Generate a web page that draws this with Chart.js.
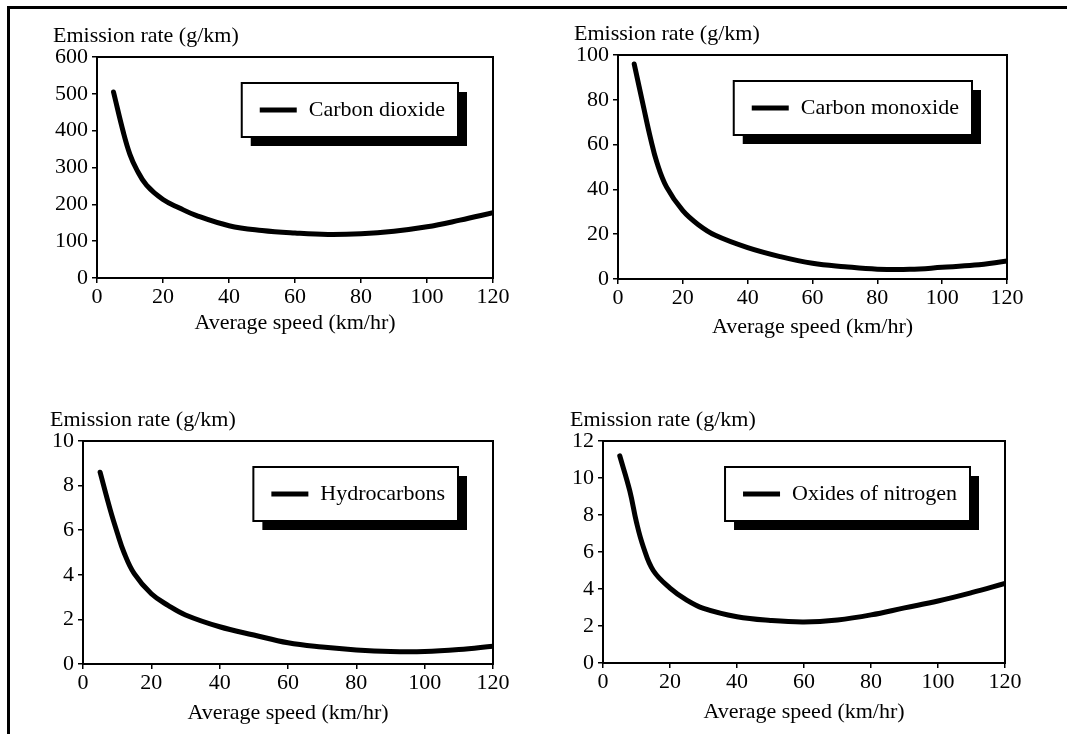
<!DOCTYPE html>
<html>
<head>
<meta charset="utf-8">
<script src="https://cdn.jsdelivr.net/npm/chart.js@4/dist/chart.umd.min.js"></script>
<style>
  body { margin: 0; background: #fff; width: 1067px; height: 734px; position: relative; overflow: hidden; }
  #frame { position: absolute; left: 7px; top: 6px; width: 1060px; height: 728px; border-left: 3px solid #000; border-top: 3px solid #000; box-sizing: border-box; }
  canvas { position: absolute; }
</style>
</head>
<body>
<div id="frame"></div>
<canvas id="c1"></canvas>
<canvas id="c2"></canvas>
<canvas id="c3"></canvas>
<canvas id="c4"></canvas>
<script>
// speeds (km/hr)
const speeds = [5, 8, 10, 12, 15, 20, 25, 30, 40, 50, 60, 70, 80, 90, 100, 110, 120];

// emission rates (g/km)
const carbonDioxide = [505, 395, 335, 295, 252, 213, 190, 170, 142, 129, 122, 118, 120, 127, 139, 157, 177];
const carbonMonoxide = [96, 76, 63, 52, 41, 30.5, 24, 19.5, 14, 10, 7, 5.5, 4.4, 4.3, 5.2, 6.2, 8];
const hydrocarbons = [8.6, 6.9, 5.9, 5.0, 4.05, 3.15, 2.62, 2.2, 1.67, 1.3, 0.95, 0.76, 0.63, 0.56, 0.56, 0.65, 0.8];
const oxidesOfNitrogen = [11.2, 9.3, 7.6, 6.3, 5.0, 4.05, 3.4, 2.95, 2.5, 2.3, 2.22, 2.33, 2.6, 2.98, 3.35, 3.8, 4.3];

const seriesNames = ['Carbon dioxide', 'Carbon monoxide', 'Hydrocarbons', 'Oxides of nitrogen'];
const yMaxes = [600, 100, 10, 12];
const ySteps = [100, 20, 2, 2];
const xMax = 120;
const xStep = 20;
const yTitle = 'Emission rate (g/km)';
const xTitle = 'Average speed (km/hr)';

const FONT_FAMILY = '"Liberation Serif", "Times New Roman", serif';
const FONT_SIZE = 22;

// plot boxes on the page: left, top, right, bottom
const panels = [
  { id: 'c1', box: [97, 57, 493, 278], values: carbonDioxide, titleGap: 12 },
  { id: 'c2', box: [618, 55, 1007, 279], values: carbonMonoxide, titleGap: 9 },
  { id: 'c3', box: [83, 441, 493, 664], values: hydrocarbons, titleGap: 8 },
  { id: 'c4', box: [603, 441, 1005, 663], values: oxidesOfNitrogen, titleGap: 8 }
];

const PAD_LEFT = 90, PAD_TOP = 50, PAD_RIGHT = 40, PAD_BOTTOM = 70;

// box round the plot, legend with drop shadow, y title over the axis
const panelDecor = {
  id: 'panelDecor',
  afterDatasetsDraw(chart) {
    const ctx = chart.ctx;
    const a = chart.chartArea;
    ctx.save();
    ctx.strokeStyle = '#000';
    ctx.lineWidth = 2;
    ctx.strokeRect(a.left, a.top, a.right - a.left, a.bottom - a.top);

    ctx.font = FONT_SIZE + 'px ' + FONT_FAMILY;
    const label = chart.data.datasets[0].label;
    const tw = ctx.measureText(label).width;
    const w = tw + 80, h = 54;
    const x = a.right - 35 - w, y = a.top + 26;
    ctx.fillStyle = '#000';
    ctx.fillRect(x + 9, y + 9, w, h);
    ctx.fillStyle = '#fff';
    ctx.fillRect(x, y, w, h);
    ctx.strokeRect(x, y, w, h);
    ctx.lineWidth = 5;
    ctx.beginPath();
    ctx.moveTo(x + 18, y + h / 2);
    ctx.lineTo(x + 55, y + h / 2);
    ctx.stroke();
    ctx.fillStyle = '#000';
    ctx.textAlign = 'left';
    ctx.textBaseline = 'middle';
    ctx.fillText(label, x + 67, y + h / 2);

    let maxW = 0;
    chart.scales.y.ticks.forEach(t => { maxW = Math.max(maxW, ctx.measureText(String(t.label)).width); });
    ctx.fillText(yTitle, a.left - 9 - maxW - 2, a.top - 21);
    ctx.restore();
  }
};

panels.forEach((p, i) => {
  const [L, T, R, B] = p.box;
  const canvas = document.getElementById(p.id);
  const cw = R - L + PAD_LEFT + PAD_RIGHT;
  const ch = B - T + PAD_TOP + PAD_BOTTOM;
  canvas.width = cw;
  canvas.height = ch;
  canvas.style.left = (L - PAD_LEFT) + 'px';
  canvas.style.top = (T - PAD_TOP) + 'px';
  canvas.style.width = cw + 'px';
  canvas.style.height = ch + 'px';

  new Chart(canvas.getContext('2d'), {
    type: 'line',
    data: {
      datasets: [{
        label: seriesNames[i],
        data: speeds.map((s, k) => ({ x: s, y: p.values[k] })),
        borderColor: '#000',
        borderWidth: 5,
        borderCapStyle: 'round',
        borderJoinStyle: 'round',
        pointRadius: 0,
        fill: false,
        tension: 0.4
      }]
    },
    options: {
      responsive: false,
      animation: false,
      devicePixelRatio: 1,
      layout: { padding: { top: PAD_TOP, right: PAD_RIGHT, left: 0, bottom: 0 } },
      plugins: {
        legend: { display: false },
        tooltip: { enabled: false },
        title: { display: false }
      },
      scales: {
        x: {
          type: 'linear',
          min: 0,
          max: xMax,
          ticks: { stepSize: xStep, color: '#000', padding: 1, maxRotation: 0,
                   font: { family: FONT_FAMILY, size: FONT_SIZE } },
          grid: { drawOnChartArea: false, drawTicks: true, tickLength: 5, color: '#000', lineWidth: 1.5 },
          border: { display: true, color: '#000', width: 2 },
          title: { display: true, text: xTitle, color: '#000', padding: { top: 0, bottom: p.titleGap },
                   font: { family: FONT_FAMILY, size: FONT_SIZE } },
          afterFit(scale) { scale.height = PAD_BOTTOM; }
        },
        y: {
          min: 0,
          max: yMaxes[i],
          ticks: { stepSize: ySteps[i], color: '#000', padding: 4,
                   font: { family: FONT_FAMILY, size: FONT_SIZE } },
          grid: { drawOnChartArea: false, drawTicks: true, tickLength: 5, color: '#000', lineWidth: 1.5 },
          border: { display: true, color: '#000', width: 2 },
          afterFit(scale) { scale.width = PAD_LEFT; }
        }
      }
    },
    plugins: [panelDecor]
  });
});
</script>
</body>
</html>
